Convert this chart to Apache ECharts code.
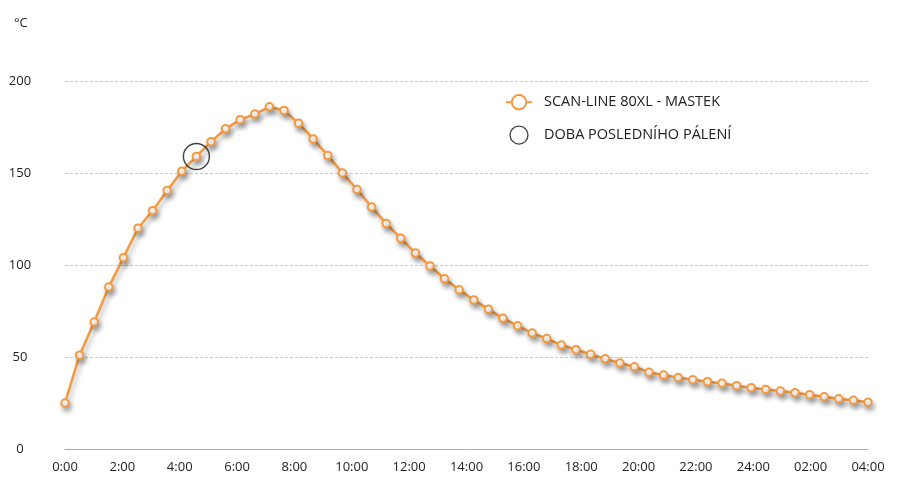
<!DOCTYPE html>
<html>
<head>
<meta charset="utf-8">
<script src="https://cdn.jsdelivr.net/npm/echarts@6/dist/echarts.min.js"></script>
<style>html,body{margin:0;padding:0;background:#fff}#c{width:899px;height:477px}</style>
</head>
<body>
<div id="c"></div>
<script>
var temps = [25, 51, 69, 88, 104, 120, 129.5, 140.5, 151, 159, 167, 174, 179, 182, 186, 184, 177, 168.5, 159.5, 150,
  141, 131.5, 122.5, 114.5, 106.5, 99.5, 92.5, 86.5, 81, 76, 71, 67, 63, 60, 56.5, 54, 51.5, 49, 46.7, 44.7,
  41.7, 40.2, 38.8, 37.7, 36.6, 35.7, 34.4, 33.3, 32.4, 31.5, 30.6, 29.5, 28.4, 27.3, 26.5, 25.4];
var pointIndex = temps.map(function (v, i) { return i; });
var tickHours = [0, 2, 4, 6, 8, 10, 12, 14, 16, 18, 20, 22, 24, 26, 28];
var tickLabels = ['0:00', '2:00', '4:00', '6:00', '8:00', '10:00', '12:00', '14:00', '16:00', '18:00', '20:00', '22:00', '24:00', '02:00', '04:00'];
var lastFireIndex = 9;
var lastFireValue = 159;
var seriesName = 'SCAN-LINE 80XL - MASTEK';
var markerName = 'DOBA POSLEDNÍHO PÁLENÍ';

var chart = echarts.init(document.getElementById('c'));
var font = '"Open Sans", "Noto Sans", sans-serif';
chart.setOption({
  backgroundColor: '#fff',
  animation: false,
  textStyle: { fontFamily: font },
  title: { text: '°C', left: 9, top: 12, textStyle: { fontSize: 13, fontWeight: 'normal', color: '#222', fontFamily: font } },
  legend: {
    orient: 'vertical', left: 500, top: 89, itemWidth: 26, itemHeight: 18, itemGap: 15,
    textStyle: { fontSize: 14.5, color: '#222', fontFamily: font, padding: [0, 0, 0, 7] },
    data: [
      { name: seriesName, itemStyle: { borderWidth: 3 } },
      { name: markerName, itemStyle: { borderWidth: 1.3, color: 'rgba(255,255,255,0)', borderColor: '#111' } }
    ]
  },
  grid: { left: 65, right: 31, top: 81, bottom: 28, containLabel: false },
  xAxis: [
    { type: 'category', data: pointIndex, boundaryGap: false, show: false },
    {
      type: 'value', min: 0, max: 28, interval: 2, position: 'bottom',
      axisLine: { show: true, lineStyle: { color: '#aaa', width: 1 } },
      axisTick: { show: false }, splitLine: { show: false },
      axisLabel: {
        margin: 12, fontSize: 13, color: '#222', fontFamily: font,
        formatter: function (v) { var k = tickHours.indexOf(v); return k >= 0 ? tickLabels[k] : ''; }
      }
    }
  ],
  yAxis: {
    type: 'value', min: 0, max: 200, interval: 50,
    axisLine: { show: false }, axisTick: { show: false },
    axisLabel: { margin: 45, align: 'center', fontSize: 13, color: '#222', fontFamily: font },
    splitLine: { show: true, lineStyle: { color: '#c8c8c8', type: [3, 2], width: 1 } }
  },
  series: [
    {
      name: seriesName, type: 'line', xAxisIndex: 0, data: temps,
      symbol: 'emptyCircle', symbolSize: 7.5, showAllSymbol: true,
      itemStyle: { color: '#F4993F', borderWidth: 2.2, borderColor: '#F4993F',
        shadowColor: 'rgba(0,0,0,0.3)', shadowBlur: 5, shadowOffsetX: 2, shadowOffsetY: 4 },
      lineStyle: { color: '#F4993F', width: 2.5,
        shadowColor: 'rgba(0,0,0,0.3)', shadowBlur: 5, shadowOffsetX: 2, shadowOffsetY: 4 },
      z: 2
    },
    {
      name: markerName, type: 'scatter', xAxisIndex: 0,
      data: [[lastFireIndex, lastFireValue]],
      symbol: 'circle', symbolSize: 26,
      itemStyle: { color: 'rgba(255,255,255,0)', borderColor: '#111', borderWidth: 1.4 },
      z: 3
    }
  ]
});
</script>
</body>
</html>
